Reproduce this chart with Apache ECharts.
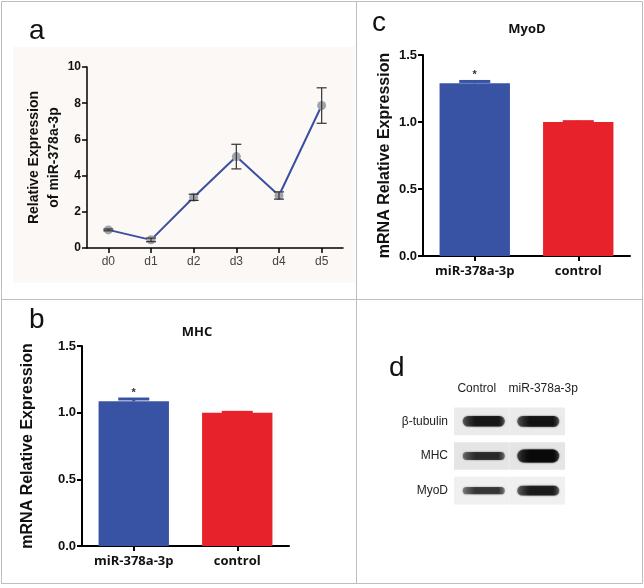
<!DOCTYPE html>
<html>
<head>
<meta charset="utf-8">
<script src="https://cdn.jsdelivr.net/npm/echarts@6/dist/echarts.min.js"></script>
<style>
html,body{margin:0;padding:0;background:#fff;}
#chart{width:644px;height:588px;}
</style>
</head>
<body>
<div id="chart"></div>
<script>
// ---- Panel a: time course ----
const aCategories = ['d0', 'd1', 'd2', 'd3', 'd4', 'd5'];
const aMean = [1.0, 0.45, 2.8, 5.05, 2.9, 7.87];
const aErr = [0.05, 0.1, 0.17, 0.68, 0.2, 0.98];
const aTicks = [0, 2, 4, 6, 8, 10];

// ---- Panels b and c: bars ----
const barCategories = ['miR-378a-3p', 'control'];
const mhcMean = [1.085, 1.0];
const mhcErr = [0.025, 0.01];
const myodMean = [1.29, 1.0];
const myodErr = [0.02, 0.01];
const sigMarks = ['*', ''];
const barTicks = [0, 0.5, 1.0, 1.5];

// ---- Panel d: western blot band densities ----
const blotLanes = ['Control', 'miR-378a-3p'];
const blotRows = ['β-tubulin', 'MHC', 'MyoD'];
const blotDensity = [
  [0.75, 0.78],   // β-tubulin
  [0.5, 1.0],     // MHC
  [0.42, 0.68]    // MyoD
];

const BLUE = '#3953a4', RED = '#e8222b';
const AR = 'Arial, "Liberation Sans", sans-serif';
const OS = '"Open Sans", Arial, sans-serif';

const chart = echarts.init(document.getElementById('chart'), null, {renderer: 'canvas'});

function valAxis(grid, max, interval, name, nameGap, nameSize, lw) {
  return {
    type: 'value', gridIndex: grid, min: 0, max: max, interval: interval,
    name: name, nameLocation: 'middle', nameGap: nameGap,
    nameTextStyle: {fontFamily: AR, fontWeight: 'bold', fontSize: nameSize, color: '#111', lineHeight: 20},
    axisLine: {show: true, lineStyle: {color: '#000', width: lw}},
    axisTick: {show: true, length: 5, lineStyle: {color: '#000', width: lw}},
    axisLabel: {fontFamily: AR, fontWeight: 'bold', fontSize: grid === 0 ? 12 : 13, color: '#111', margin: 6,
      formatter: function (v) { return grid === 0 ? String(v) : v.toFixed(1); }},
    splitLine: {show: false}
  };
}
function catAxis(grid, data, lw, labelStyle, margin) {
  return {
    type: 'category', gridIndex: grid, data: data, boundaryGap: true,
    axisLine: {show: true, lineStyle: {color: '#000', width: lw}},
    axisTick: {show: true, alignWithLabel: true, length: 5, lineStyle: {color: '#000', width: lw}},
    axisLabel: Object.assign({margin: margin, interval: 0}, labelStyle)
  };
}

function barErrorSeries(xi, yi, mean, err) {
  return {
    type: 'custom', xAxisIndex: xi, yAxisIndex: yi, z: 5,
    data: mean.map(function (m, i) { return [i, m, err[i], i]; }),
    renderItem: function (params, api) {
      const i = api.value(0), m = api.value(1), e = api.value(2);
      const base = api.coord([i, m]);
      const top = api.coord([i, m + e]);
      const color = i === 0 ? BLUE : RED;
      const capW = api.size([1, 0])[0] * 0.3;
      const children = [
        {type: 'line', shape: {x1: base[0], y1: base[1], x2: top[0], y2: top[1]}, style: {stroke: color, lineWidth: 3}},
        {type: 'line', shape: {x1: top[0] - capW / 2, y1: top[1] + 1, x2: top[0] + capW / 2, y2: top[1] + 1}, style: {stroke: color, lineWidth: 3}}
      ];
      const mark = sigMarks[i];
      if (mark) {
        children.push({type: 'text', x: top[0], y: top[1] - 5,
          style: {text: mark, fill: '#333', font: 'bold 11px ' + AR, align: 'center', verticalAlign: 'middle'}});
      }
      return {type: 'group', children: children};
    }
  };
}

const barLabelStyle = {fontFamily: OS, fontWeight: 'bold', fontSize: 13, color: '#111'};

const option = {
  animation: false,
  backgroundColor: '#fff',
  grid: [
    {left: 87, top: 67, width: 256, height: 181},   // a
    {left: 423, top: 55, width: 207, height: 201},  // c
    {left: 82, top: 346, width: 207, height: 200},  // b
    {left: 454, top: 404, width: 111, height: 104}  // d
  ],
  xAxis: [
    catAxis(0, aCategories, 1.5, {fontFamily: AR, fontSize: 12, color: '#444'}, 8),
    catAxis(1, barCategories, 2, barLabelStyle, 9),
    catAxis(2, barCategories, 2, barLabelStyle, 9),
    {type: 'category', gridIndex: 3, position: 'top',
      data: [
        {value: blotLanes[0], textStyle: {padding: [0, 10, 0, 0]}},
        {value: blotLanes[1], textStyle: {padding: [0, 0, 0, 12]}}
      ],
      axisLine: {show: false}, axisTick: {show: false},
      axisLabel: {fontFamily: AR, fontSize: 12, color: '#222', margin: 9, interval: 0}}
  ],
  yAxis: [
    valAxis(0, 10, 2, 'Relative Expression\nof miR-378a-3p', 23, 14, 1.5),
    valAxis(1, 1.5, 0.5, 'mRNA Relative Expression', 26, 16, 2),
    valAxis(2, 1.5, 0.5, 'mRNA Relative Expression', 44, 16, 2),
    {type: 'category', gridIndex: 3, data: blotRows, inverse: true,
      axisLine: {show: false}, axisTick: {show: false}, splitLine: {show: false},
      axisLabel: {fontFamily: AR, fontSize: 12, color: '#222', margin: 6}}
  ],
  series: [
    {
      type: 'line', xAxisIndex: 0, yAxisIndex: 0, data: aMean, z: 3,
      lineStyle: {color: '#3a4ea2', width: 2},
      symbol: 'circle', symbolSize: 9,
      itemStyle: {color: '#a2a3ad', borderWidth: 0}
    },
    {
      type: 'custom', xAxisIndex: 0, yAxisIndex: 0, z: 6,
      data: aMean.map(function (m, i) { return [i, m, aErr[i]]; }),
      renderItem: function (params, api) {
        const i = api.value(0), m = api.value(1), e = api.value(2);
        const hi = api.coord([i, m + e]), lo = api.coord([i, m - e]);
        const cw = 5;
        const st = {stroke: '#333', lineWidth: 1.2};
        return {type: 'group', children: [
          {type: 'line', shape: {x1: hi[0], y1: hi[1], x2: lo[0], y2: lo[1]}, style: st},
          {type: 'line', shape: {x1: hi[0] - cw, y1: hi[1], x2: hi[0] + cw, y2: hi[1]}, style: st},
          {type: 'line', shape: {x1: lo[0] - cw, y1: lo[1], x2: lo[0] + cw, y2: lo[1]}, style: st}
        ]};
      }
    },
    {
      type: 'bar', xAxisIndex: 1, yAxisIndex: 1, barWidth: '68%', z: 2,
      data: myodMean.map(function (v, i) { return {value: v, itemStyle: {color: i === 0 ? BLUE : RED}}; })
    },
    barErrorSeries(1, 1, myodMean, myodErr),
    {
      type: 'bar', xAxisIndex: 2, yAxisIndex: 2, barWidth: '68%', z: 2,
      data: mhcMean.map(function (v, i) { return {value: v, itemStyle: {color: i === 0 ? BLUE : RED}}; })
    },
    barErrorSeries(2, 2, mhcMean, mhcErr),
    {
      type: 'custom', xAxisIndex: 3, yAxisIndex: 3, z: 2,
      data: (function () {
        const out = [];
        blotDensity.forEach(function (row, r) { row.forEach(function (d, l) { out.push([l, r, d]); }); });
        return out;
      })(),
      renderItem: function (params, api) {
        const l = api.value(0), r = api.value(1), d = api.value(2);
        const c = api.coord([l, r]);
        const sz = api.size([1, 1]);
        const w = sz[0], h = sz[1];
        const bgShade = ['#ebebeb', '#e5e5e5', '#f0f0f0'][r];
        const bh = 3 + 10 * d;
        const bw = w * 0.76;
        const a = 0.45 + 0.5 * d;
        const col = 'rgba(8,8,8,' + a.toFixed(2) + ')';
        const colEdge = 'rgba(8,8,8,' + (a * 0.55).toFixed(2) + ')';
        const bx = c[0] - bw / 2 + (l === 0 ? 2 : 1);
        return {type: 'group', children: [
          {type: 'rect', shape: {x: c[0] - w / 2, y: c[1] - h / 2 + 3.5, width: w, height: h - 7},
            style: {fill: bgShade}},
          {type: 'rect', shape: {x: bx, y: c[1] - bh / 2, width: bw, height: bh, r: bh / 2},
            style: {
              fill: new echarts.graphic.LinearGradient(0, 0, 1, 0, [
                {offset: 0, color: colEdge}, {offset: 0.3, color: col},
                {offset: 0.85, color: col}, {offset: 1, color: colEdge}]),
              shadowBlur: 2, shadowColor: col
            }}
        ]};
      }
    }
  ],
  graphic: [
    {type: 'rect', z: -10, shape: {x: 13, y: 47, width: 342, height: 236}, style: {fill: '#fbf8f6'}},
    {type: 'rect', z: 10, shape: {x: 1.5, y: 1.5, width: 641, height: 582}, style: {fill: 'none', stroke: '#bdbdbd', lineWidth: 1}},
    {type: 'line', z: 10, shape: {x1: 356.5, y1: 1, x2: 356.5, y2: 584}, style: {stroke: '#bdbdbd', lineWidth: 1}},
    {type: 'line', z: 10, shape: {x1: 1, y1: 299.5, x2: 643, y2: 299.5}, style: {stroke: '#bdbdbd', lineWidth: 1}},
    {type: 'text', x: 29, y: 17, style: {text: 'a', font: '28px ' + AR, fill: '#111', verticalAlign: 'top'}},
    {type: 'text', x: 372, y: 9, style: {text: 'c', font: '28px ' + AR, fill: '#111', verticalAlign: 'top'}},
    {type: 'text', x: 29, y: 306, style: {text: 'b', font: '28px ' + AR, fill: '#111', verticalAlign: 'top'}},
    {type: 'text', x: 389, y: 354, style: {text: 'd', font: '28px ' + AR, fill: '#111', verticalAlign: 'top'}},
    {type: 'text', x: 197, y: 332, style: {text: 'MHC', font: 'bold 13px ' + OS, fill: '#111', align: 'center', verticalAlign: 'middle'}},
    {type: 'text', x: 527, y: 29, style: {text: 'MyoD', font: 'bold 13px ' + OS, fill: '#111', align: 'center', verticalAlign: 'middle'}}
  ]
};
chart.setOption(option);
</script>
</body>
</html>
